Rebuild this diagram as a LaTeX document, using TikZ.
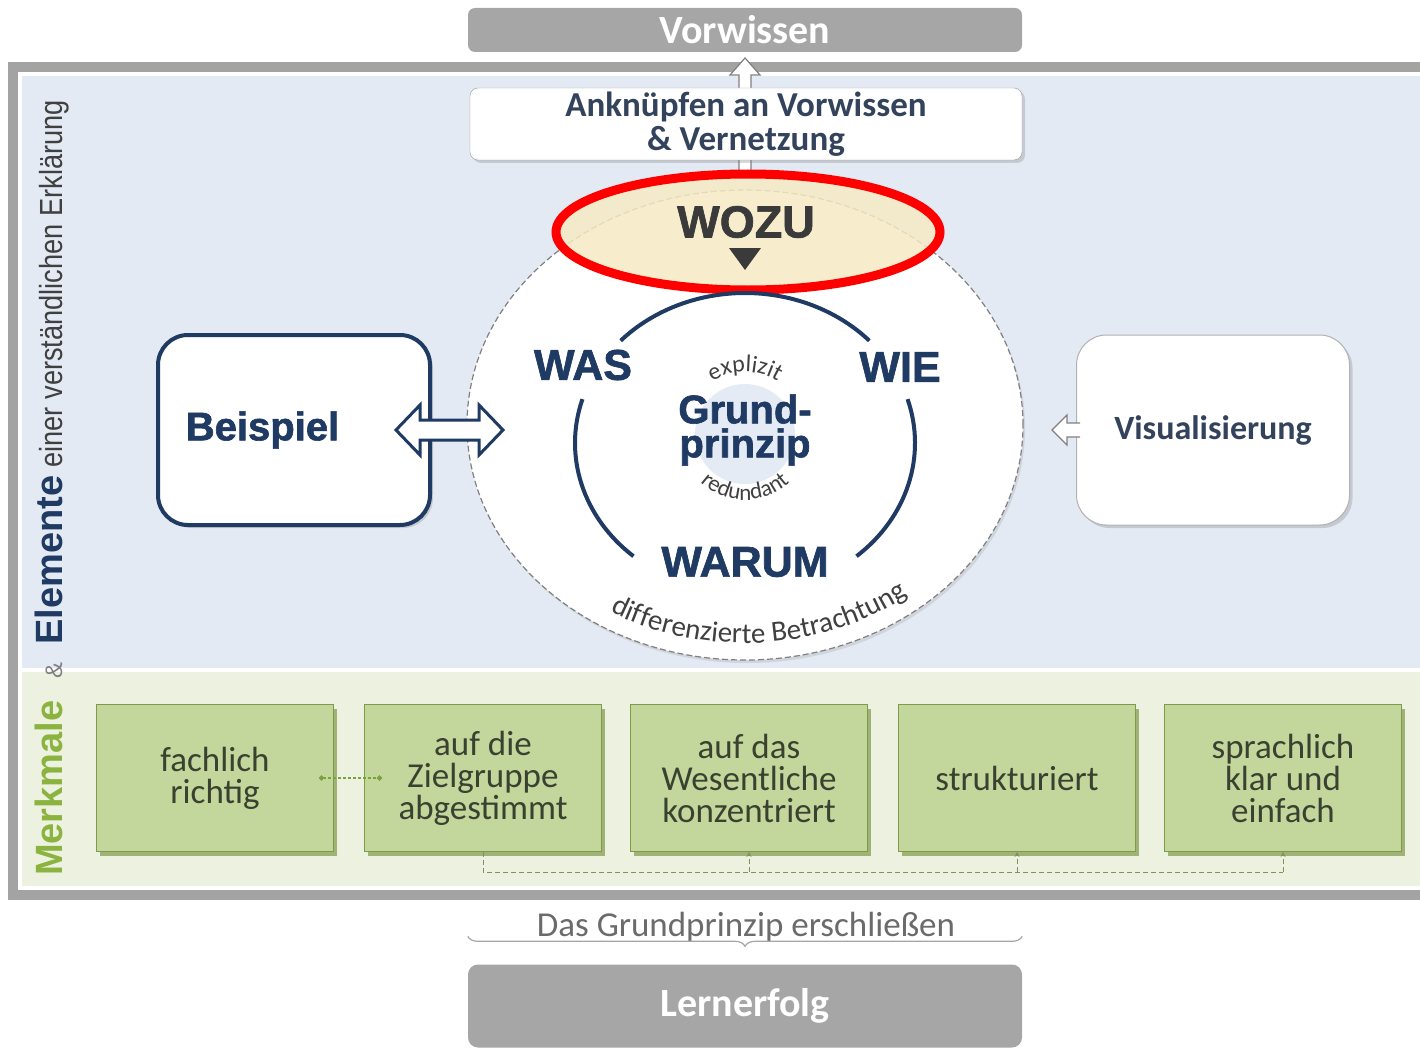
\documentclass[tikz,border=0pt]{standalone}
\usepackage{fontspec}
\setmainfont{Carlito}
\setsansfont{Liberation Sans}
\newfontfamily\heavyfont[FakeBold=1.5]{Liberation Sans}
\newfontfamily\narrowfont[FakeStretch=0.85]{Liberation Sans}
\usetikzlibrary{shapes.geometric,shadows,arrows.meta,decorations.text,decorations.pathreplacing}
\definecolor{barGray}{HTML}{A6A6A6}
\definecolor{frameGray}{HTML}{A3A3A3}
\definecolor{paleBlue}{HTML}{E4EAF3}
\definecolor{paleGreen}{HTML}{EDF1E0}
\definecolor{glowBlue}{HTML}{D9E3F0}
\definecolor{navy}{HTML}{1F3A63}
\definecolor{slate}{HTML}{34435C}
\definecolor{leaf}{HTML}{C3D69B}
\definecolor{leafEdge}{HTML}{7E9A4A}
\definecolor{leafText}{HTML}{3A4130}
\definecolor{leafDot}{HTML}{7AA33C}
\definecolor{mkGreen}{HTML}{8BB33F}
\definecolor{cream}{HTML}{F6EAC4}
\definecolor{inkGray}{HTML}{404040}
\definecolor{capGray}{HTML}{6B6B6B}

\begin{document}
\begin{tikzpicture}[x=1pt,y=-1pt,>={Stealth[length=5pt,width=5pt]},
  bar/.style={fill=barGray,rounded corners=7pt,text=white,minimum width=554pt,
    font=\fontsize{40}{40}\selectfont\bfseries},
  card/.style={fill=white,rounded corners=30pt,minimum width=272pt,minimum height=190pt,
    drop shadow={opacity=0.3,shadow xshift=3pt,shadow yshift=-3pt}},
  trait/.style={fill=leaf,draw=leafEdge,line width=1pt,minimum width=237pt,minimum height=147pt,
    align=center,text=leafText,font=\fontsize{35}{32}\selectfont,
    drop shadow={fill=leafEdge,opacity=0.7,shadow xshift=3pt,shadow yshift=-4pt}},
  big/.style={text=navy,font=\heavyfont\bfseries\fontsize{43}{43}\selectfont},
  hollow/.style={fill=white,line join=miter},
  linkdash/.style={draw=leafEdge!70!gray,line width=1pt,dash pattern=on 5pt off 3pt}]
\useasboundingbox (0,0) rectangle (1420,1051);
\clip (0,0) rectangle (1420,1051);

\fill[paleBlue] (22,76) rectangle (1420,668);
\fill[paleGreen] (22,672) rectangle (1420,886);
\draw[frameGray,line width=10pt] (13,67) rectangle (1440,895);

\node[bar,minimum height=44pt] (vorwissen) at (745,30) {Vorwissen};
\node[bar,minimum height=83pt,rounded corners=10pt] (lernerfolg) at (745,1006) {Lernerfolg};

\draw[hollow,draw=gray,line width=1.2pt] (739,175) -- (739,75) -- (730,75) -- (745,58) -- (760,75) -- (751,75) -- (751,175);
\node[fill=white,draw=gray!80,rounded corners=8pt,minimum width=552pt,minimum height=72pt,
  align=center,text=slate,font=\fontsize{35}{34}\selectfont\bfseries,
  drop shadow={opacity=0.3,shadow xshift=3pt,shadow yshift=-3pt}]
  (anknuepfen) at (746,124) {Anknüpfen an Vorwissen\\\& Vernetzung};

\node[ellipse,fill=white,draw=gray,line width=1.2pt,dash pattern=on 6pt off 3pt,
  minimum width=556pt,minimum height=470pt,drop shadow={opacity=0.2,shadow xshift=2pt,shadow yshift=-3pt}]
  (ring) at (745,425) {};
\node[ellipse,fill=cream,fill opacity=0.85,draw=red,draw opacity=1,line width=9pt,
  minimum width=384pt,minimum height=116pt] (focus) at (748,232) {};
\node[text=inkGray!90!black,font=\heavyfont\bfseries\fontsize{45}{45}\selectfont] (wozu) at (746,222) {WOZU};
\fill[inkGray!90!black] (729,248) -- (761,248) -- (745,270) -- cycle;

\coordinate (hub) at (745,443);
\coordinate (glow) at (745,434);
\fill[glowBlue,opacity=0.7] (glow) circle[radius=50pt];
\draw[navy,line width=4pt] (hub) ++(43:170pt and 150pt) arc[start angle=43,end angle=137,x radius=170pt,y radius=150pt];
\draw[navy,line width=4pt] (hub) ++(163:170pt and 150pt) arc[start angle=163,end angle=229,x radius=170pt,y radius=150pt];
\draw[navy,line width=4pt] (hub) ++(-49:170pt and 150pt) arc[start angle=-49,end angle=17,x radius=170pt,y radius=150pt];

\node[big] (was) at (583,365) {WAS};
\node[big] (wie) at (900,367) {WIE};
\node[big] (warum) at (745,562) {WARUM};
\node[big,align=center,inner sep=0pt,font=\heavyfont\bfseries\fontsize{40}{34}\selectfont] (grundprinzip) at (745,430) {Grund-\\prinzip};

\path[decorate,decoration={text along path,text align=center,
  text={|\fontsize{24}{24}\selectfont\color{inkGray}|explizit}}]
  (glow) ++(152:62pt) arc[start angle=152,end angle=28,radius=62pt];
\path[decorate,decoration={text along path,text align=center,
  text={|\fontsize{23}{23}\selectfont\color{inkGray}|redundant}}]
  (glow) ++(212:66pt) arc[start angle=212,end angle=328,radius=66pt];
\path[decorate,decoration={text along path,text align=center,
  text={|\fontsize{29}{29}\selectfont\color{inkGray}|differenzierte Betrachtung}}]
  (ring.center) ++(222:262pt and 218pt) arc[start angle=222,end angle=326,x radius=262pt,y radius=218pt];

\node[card,draw=navy,line width=4pt,text=navy,font=\heavyfont\bfseries\fontsize{40}{40}\selectfont]
  (beispiel) at (294,430) {\hspace*{-63pt}Beispiel};
\node[card,draw=gray!60,line width=1pt,minimum width=273pt,text=slate,font=\fontsize{34}{34}\selectfont\bfseries]
  (visual) at (1213,430) {Visualisierung};

\draw[hollow,draw=navy,line width=3pt] (396,430) -- (420,405) -- (420,420) -- (479,420) -- (479,405)
  -- (503,430) -- (479,455) -- (479,440) -- (420,440) -- (420,455) -- cycle;
\draw[hollow,draw=gray,line width=1.2pt] (1080,423) -- (1067,423) -- (1067,415) -- (1052,430)
  -- (1067,445) -- (1067,437) -- (1080,437);

\node[trait] (fachlich) at (215,778) {fachlich\\richtig};
\node[trait] (zielgruppe) at (483,778) {auf die\\Zielgruppe\\abgestimmt};
\node[trait] (wesentlich) at (749,778) {auf das\\Wesentliche\\konzentriert};
\node[trait] (struktur) at (1017,778) {strukturiert};
\node[trait] (sprache) at (1283,778) {sprachlich\\klar und\\einfach};

\draw[leafDot,line width=2pt,dash pattern=on 3pt off 2pt,{Circle[length=5pt]}-{Circle[length=5pt]},
  shorten <=-15pt,shorten >=-18pt] (fachlich.east) -- (zielgruppe.west);
\coordinate (rail) at (483,872);
\draw[linkdash] (zielgruppe.south) -- (rail) -- (rail -| sprache.south);
\draw[linkdash,->] (rail -| wesentlich.south) -- (wesentlich.south);
\draw[linkdash,->] (rail -| struktur.south) -- (struktur.south);
\draw[linkdash,->] (rail -| sprache.south) -- (sprache.south);

\node[anchor=base west,rotate=90,inner sep=0pt] (label) at (62,876)
  {{\sffamily\bfseries\fontsize{38}{38}\selectfont\color{mkGreen}Merkmale}\hspace{22pt}%
   {\sffamily\fontsize{24}{24}\selectfont\color{gray}\&}\hspace{18pt}%
   {\sffamily\bfseries\fontsize{38}{38}\selectfont\color{navy}Elemente}\hspace{8pt}%
   {\narrowfont\fontsize{32}{32}\selectfont\color{inkGray}einer verständlichen Erklärung}};

\node[text=capGray,font=\fontsize{35}{35}\selectfont] (erschliessen) at (746,927) {Das Grundprinzip erschließen};
\draw[gray!70,line width=1.2pt,decorate,decoration={brace,mirror,amplitude=10pt}]
  ([yshift=28pt]lernerfolg.north west) -- ([yshift=28pt]lernerfolg.north east);
\end{tikzpicture}
\end{document}
